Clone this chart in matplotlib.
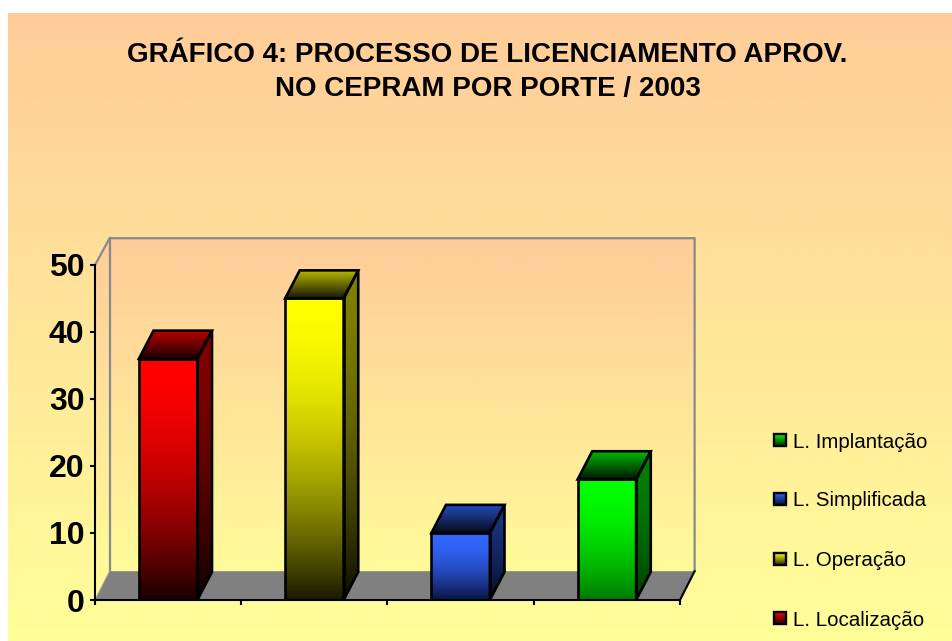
import numpy as np
import matplotlib
matplotlib.use("Agg")
import matplotlib.pyplot as plt
from matplotlib.colors import LinearSegmentedColormap
from matplotlib.patches import Polygon, Rectangle

plt.rcParams["font.family"] = ["Liberation Sans", "DejaVu Sans"]

# ── Data ──────────────────────────────────────────────────────────
licences = ["L. Localização", "L. Operação", "L. Simplificada", "L. Implantação"]
values = [36, 45, 10, 18]
y_ticks = [0, 10, 20, 30, 40, 50]
title = "GRÁFICO 4: PROCESSO DE LICENCIAMENTO APROV.\nNO CEPRAM POR PORTE / 2003"

# ── Colours ───────────────────────────────────────────────────────
bar_top = ["#ff0000", "#ffff00", "#3366ff", "#00ff00"]
bar_bottom = ["#1a0000", "#1a1a00", "#0a1440", "#007a00"]
BG_TOP, BG_BOTTOM = "#ffcc99", "#ffff99"
WALL = "#858a90"

W, H = 953, 641
DEPTH_X = 0.1       # 3-D offset in x-axis units
DEPTH_Y = 4.2       # 3-D offset in y-axis units
FLOOR_Y = 4.3
WALL_Y = 54
BAR_W = 0.4


def vgrad(ax, c_top, c_bottom, extent, clip=None, zorder=1, gamma=1.0):
    """Vertical gradient image, optionally clipped to a patch."""
    cmap = LinearSegmentedColormap.from_list("g", [c_top, c_bottom])
    g = (np.linspace(0, 1, 256) ** gamma).reshape(-1, 1)
    im = ax.imshow(g, cmap=cmap, extent=extent, aspect="auto", origin="upper",
                   zorder=zorder, interpolation="bilinear", vmin=0, vmax=1)
    if clip is not None:
        im.set_clip_path(clip)
        if not isinstance(clip, Rectangle):
            # images fall back to the axes box otherwise, walls stick out of it
            im.set_clip_box(ax.figure.bbox)
    return im


def scale(color, f):
    return tuple(c * f for c in matplotlib.colors.to_rgb(color))


fig = plt.figure(figsize=(W / 100, H / 100), dpi=100, facecolor="white")

# background panel, pixel coordinates
bg = fig.add_axes([0, 0, 1, 1])
bg.axis("off")
vgrad(bg, BG_TOP, BG_BOTTOM, (8, W, H, 13))
bg.set_xlim(0, W)
bg.set_ylim(H, 0)

bg.text(487.5, 72, title, ha="center", va="center", fontsize=20, fontweight="bold",
        linespacing=1.39, color="black")

# ── Plot area ─────────────────────────────────────────────────────
ax = fig.add_axes([95 / W, 1 - 600 / H, 585 / W, 335 / H])
ax.patch.set_alpha(0)
ax.set_xlim(0, 4)
ax.set_ylim(0, 50)

# walls
wall_back = Polygon([(DEPTH_X, FLOOR_Y), (DEPTH_X, WALL_Y), (4 + DEPTH_X, WALL_Y),
                     (4 + DEPTH_X, FLOOR_Y)], closed=True, fc="none", ec="none", clip_on=False)
ax.add_patch(wall_back)
vgrad(ax, BG_TOP, BG_BOTTOM, (DEPTH_X, 4 + DEPTH_X, 0, WALL_Y), clip=wall_back, zorder=1)
wall_left = Polygon([(0, 0), (0, 50), (DEPTH_X, WALL_Y), (DEPTH_X, FLOOR_Y)],
                    closed=True, fc="none", ec="none", clip_on=False)
ax.add_patch(wall_left)
vgrad(ax, BG_TOP, BG_BOTTOM, (0, DEPTH_X, 0, WALL_Y), clip=wall_left, zorder=1)
ax.add_patch(Polygon([(0, 0), (DEPTH_X, FLOOR_Y), (4 + DEPTH_X, FLOOR_Y), (4, 0)],
                     closed=True, fc="#808080", ec="none", zorder=2, clip_on=False))
ax.plot([0, DEPTH_X, 4 + DEPTH_X, 4 + DEPTH_X], [50, WALL_Y, WALL_Y, FLOOR_Y],
        color=WALL, lw=1.6, clip_on=False, zorder=2, solid_joinstyle="miter")
ax.plot([DEPTH_X, DEPTH_X], [FLOOR_Y, WALL_Y], color=WALL, lw=1.6, clip_on=False, zorder=2)
ax.plot([0, DEPTH_X], [0, FLOOR_Y], color="#a0a0a0", lw=0.8, clip_on=False, zorder=2)
ax.plot([4, 4 + DEPTH_X], [0, FLOOR_Y], color="black", lw=1.5, clip_on=False, zorder=6)

# bars
for i, (v, c1, c2) in enumerate(zip(values, bar_top, bar_bottom)):
    x0 = i + 0.5 - BAR_W / 2
    x1 = x0 + BAR_W

    front = Rectangle((x0, 0), BAR_W, v, fc="none", ec="none", zorder=3)
    ax.add_patch(front)
    vgrad(ax, c1, c2, (x0, x1, 0, v), clip=front, zorder=3, gamma=1.8)
    ax.add_patch(Rectangle((x0, 0), BAR_W, v, fc="none", ec="black", lw=1.9, zorder=5))

    side = Polygon([(x1, 0), (x1, v), (x1 + DEPTH_X, v + DEPTH_Y), (x1 + DEPTH_X, DEPTH_Y)],
                   closed=True, fc="none", ec="none", zorder=3)
    ax.add_patch(side)
    vgrad(ax, scale(c1, 0.5), scale(c2, 0.5), (x1, x1 + DEPTH_X, 0, v + DEPTH_Y),
          clip=side, zorder=3, gamma=1.8)
    ax.add_patch(Polygon(side.get_xy(), closed=True, fc="none", ec="black", lw=1.9, zorder=5))

    top = Polygon([(x0, v), (x1, v), (x1 + DEPTH_X, v + DEPTH_Y), (x0 + DEPTH_X, v + DEPTH_Y)],
                  closed=True, fc="none", ec="none", zorder=3)
    ax.add_patch(top)
    vgrad(ax, scale(c1, 0.75), scale(c1, 0.1), (x0, x1 + DEPTH_X, v, v + DEPTH_Y), clip=top, zorder=3)
    ax.add_patch(Polygon(top.get_xy(), closed=True, fc="none", ec="black", lw=1.9, zorder=5))

ax.set_xlim(0, 4)
ax.set_ylim(0, 50)
ax.set_aspect("auto")

# axes
for s in ["top", "right"]:
    ax.spines[s].set_visible(False)
for s in ["left", "bottom"]:
    ax.spines[s].set_linewidth(1.5)
    ax.spines[s].set_zorder(6)
ax.set_xticks(range(5))
ax.set_xticklabels([])
ax.set_yticks(y_ticks)
ax.tick_params(axis="both", width=1.5, length=3.5, zorder=6)
ax.tick_params(axis="y", labelsize=23, pad=4)
for lab in ax.get_yticklabels():
    lab.set_fontweight("bold")

# ── Legend (bottom to top, gradient swatches) ─────────────────────
leg_y = [618, 559, 499, 440]
for name, c1, c2, y in zip(licences, bar_top, bar_bottom, leg_y):
    sw = Rectangle((774, y - 6), 12, 12, fc="none", ec="none", zorder=3)
    bg.add_patch(sw)
    vgrad(bg, c1, scale(c1, 0.15), (774, 786, y + 6, y - 6), clip=sw, zorder=3)
    bg.add_patch(Rectangle((774, y - 6), 12, 12, fc="none", ec="black", lw=1.7, zorder=4))
    bg.text(793, y + 2, name, ha="left", va="center", fontsize=14.75, color="black")
bg.set_xlim(0, W)
bg.set_ylim(H, 0)

plt.savefig("out.png", dpi=100)
